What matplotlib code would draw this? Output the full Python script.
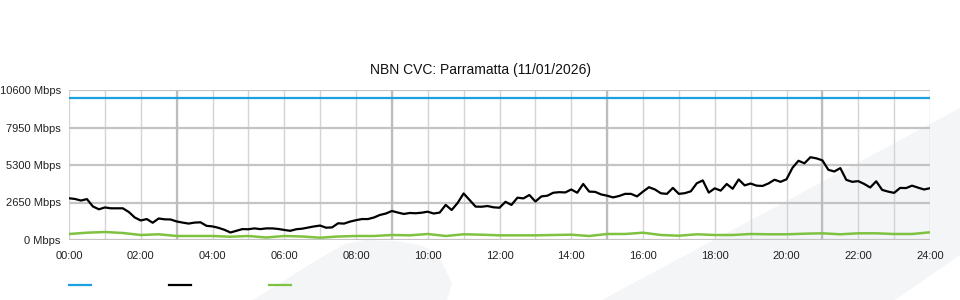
import numpy as np
from matplotlib import pyplot as plt
from matplotlib.patches import Polygon
from matplotlib.lines import Line2D

plt.rcParams['font.family'] = ['Liberation Sans', 'DejaVu Sans']

# NBN CVC usage for Parramatta, 10 minute samples over the day (Mbps)
title = 'NBN CVC: Parramatta (11/01/2026)'
capacity = 10000

usage = [2950, 2900, 2790, 2890, 2370, 2170, 2300, 2240, 2240, 2240,
         1980, 1590, 1380, 1480, 1220, 1520, 1460, 1450, 1310, 1230,
         1160, 1230, 1250, 1000, 960, 860, 720, 530, 650, 770,
         760, 820, 770, 820, 820, 780, 710, 650, 760, 800,
         880, 960, 1020, 870, 890, 1180, 1160, 1300, 1400, 1480,
         1480, 1590, 1770, 1870, 2050, 1940, 1840, 1910, 1890, 1930,
         2000, 1870, 1940, 2480, 2120, 2620, 3290, 2830, 2360, 2350,
         2400, 2310, 2280, 2700, 2480, 2990, 2940, 3180, 2720, 3080,
         3130, 3340, 3380, 3360, 3570, 3340, 3960, 3420, 3400, 3220,
         3130, 3010, 3110, 3260, 3260, 3080, 3420, 3730, 3570, 3300,
         3260, 3680, 3260, 3310, 3440, 4010, 4210, 3350, 3650, 3490,
         3960, 3620, 4280, 3860, 3990, 3840, 3820, 4000, 4260, 4110,
         4290, 5100, 5600, 5420, 5850, 5770, 5630, 4960, 4840, 5080,
         4250, 4110, 4160, 3960, 3710, 4150, 3540, 3420, 3330, 3680,
         3670, 3840, 3700, 3570, 3660]

# second series, 30 minute samples (Mbps)
upload = [424, 516, 565, 495, 353, 403, 283, 283, 283, 233,
          283, 177, 283, 247, 163, 247, 283, 283, 353, 330,
          424, 283, 403, 375, 330, 330, 330, 353, 375, 283,
          424, 424, 516, 353, 304, 403, 353, 353, 424, 403,
          403, 445, 473, 403, 473, 473, 424, 424, 544]

yticks = [0, 2650, 5300, 7950, 10600]
ytick_labels = ['0 Mbps', '2650 Mbps', '5300 Mbps', '7950 Mbps', '10600 Mbps']
xtick_labels = ['%02d:00' % h for h in range(0, 25, 2)]

t_usage = np.linspace(0, 24, len(usage))
t_upload = np.linspace(0, 24, len(upload))

blue = '#1ba1e2'
green = '#7fc241'

fig = plt.figure(figsize=(9.6, 3), dpi=100)

# faint watermark shapes behind the chart
wm = '#f4f5f7'
W, H = 960.0, 300.0
def pts(p):
    return [(x / W, 1 - y / H) for x, y in p]
fig.patches.append(Polygon(pts([(253, 300), (317, 260), (345, 244), (365, 240),
                                (395, 241), (420, 245), (437, 253), (452, 283),
                                (447, 300)]),
                           closed=True, transform=fig.transFigure,
                           facecolor=wm, edgecolor='none', zorder=-5))
fig.patches.append(Polygon(pts([(602, 300), (960, 108), (960, 255), (895, 300)]),
                           closed=True, transform=fig.transFigure,
                           facecolor=wm, edgecolor='none', zorder=-5))

ax = fig.add_axes([69 / W, 60 / H, 861 / W, 150 / H])
ax.set_zorder(2)
ax.patch.set_alpha(0)

ax.set_xlim(0, 24)
ax.set_ylim(0, 10600)
ax.set_xticks(range(0, 25, 2))
ax.set_xticks(range(1, 24, 2), minor=True)
ax.set_xticklabels(xtick_labels)
ax.set_yticks(yticks)
ax.set_yticklabels(ytick_labels)
ax.tick_params(axis='both', which='both', length=0, labelsize=8, colors='#222222')
ax.tick_params(axis='x', pad=8)
ax.tick_params(axis='y', pad=6)
for s in ax.spines.values():
    s.set_visible(False)

ax.grid(axis='x', which='both', color='#d4d4d4', linewidth=1.0, zorder=1)
ax.grid(axis='y', color='#c4c4c4', linewidth=1.6, zorder=1)
for h in [3, 9, 15, 21]:
    ax.axvline(h, color='#bdbdbd', linewidth=1.6, zorder=1)
ax.set_axisbelow(True)

ax.axhline(capacity, color=blue, linewidth=1.6, zorder=3)
ax.plot(t_upload, upload, color=green, linewidth=1.8, zorder=3)
ax.plot(t_usage, usage, color='black', linewidth=1.6, zorder=4)

fig.text(0.5, 1 - 70 / H, title, ha='center', va='center', fontsize=10, color='#111111')

# legend swatches (no labels shown)
for x0, c in [(69, blue), (169, 'black'), (269, green)]:
    fig.add_artist(Line2D([x0 / W, (x0 + 22) / W], [1 - 285 / H, 1 - 285 / H],
                          transform=fig.transFigure, color=c, linewidth=1.6))

fig.savefig('out.png', dpi=100)
